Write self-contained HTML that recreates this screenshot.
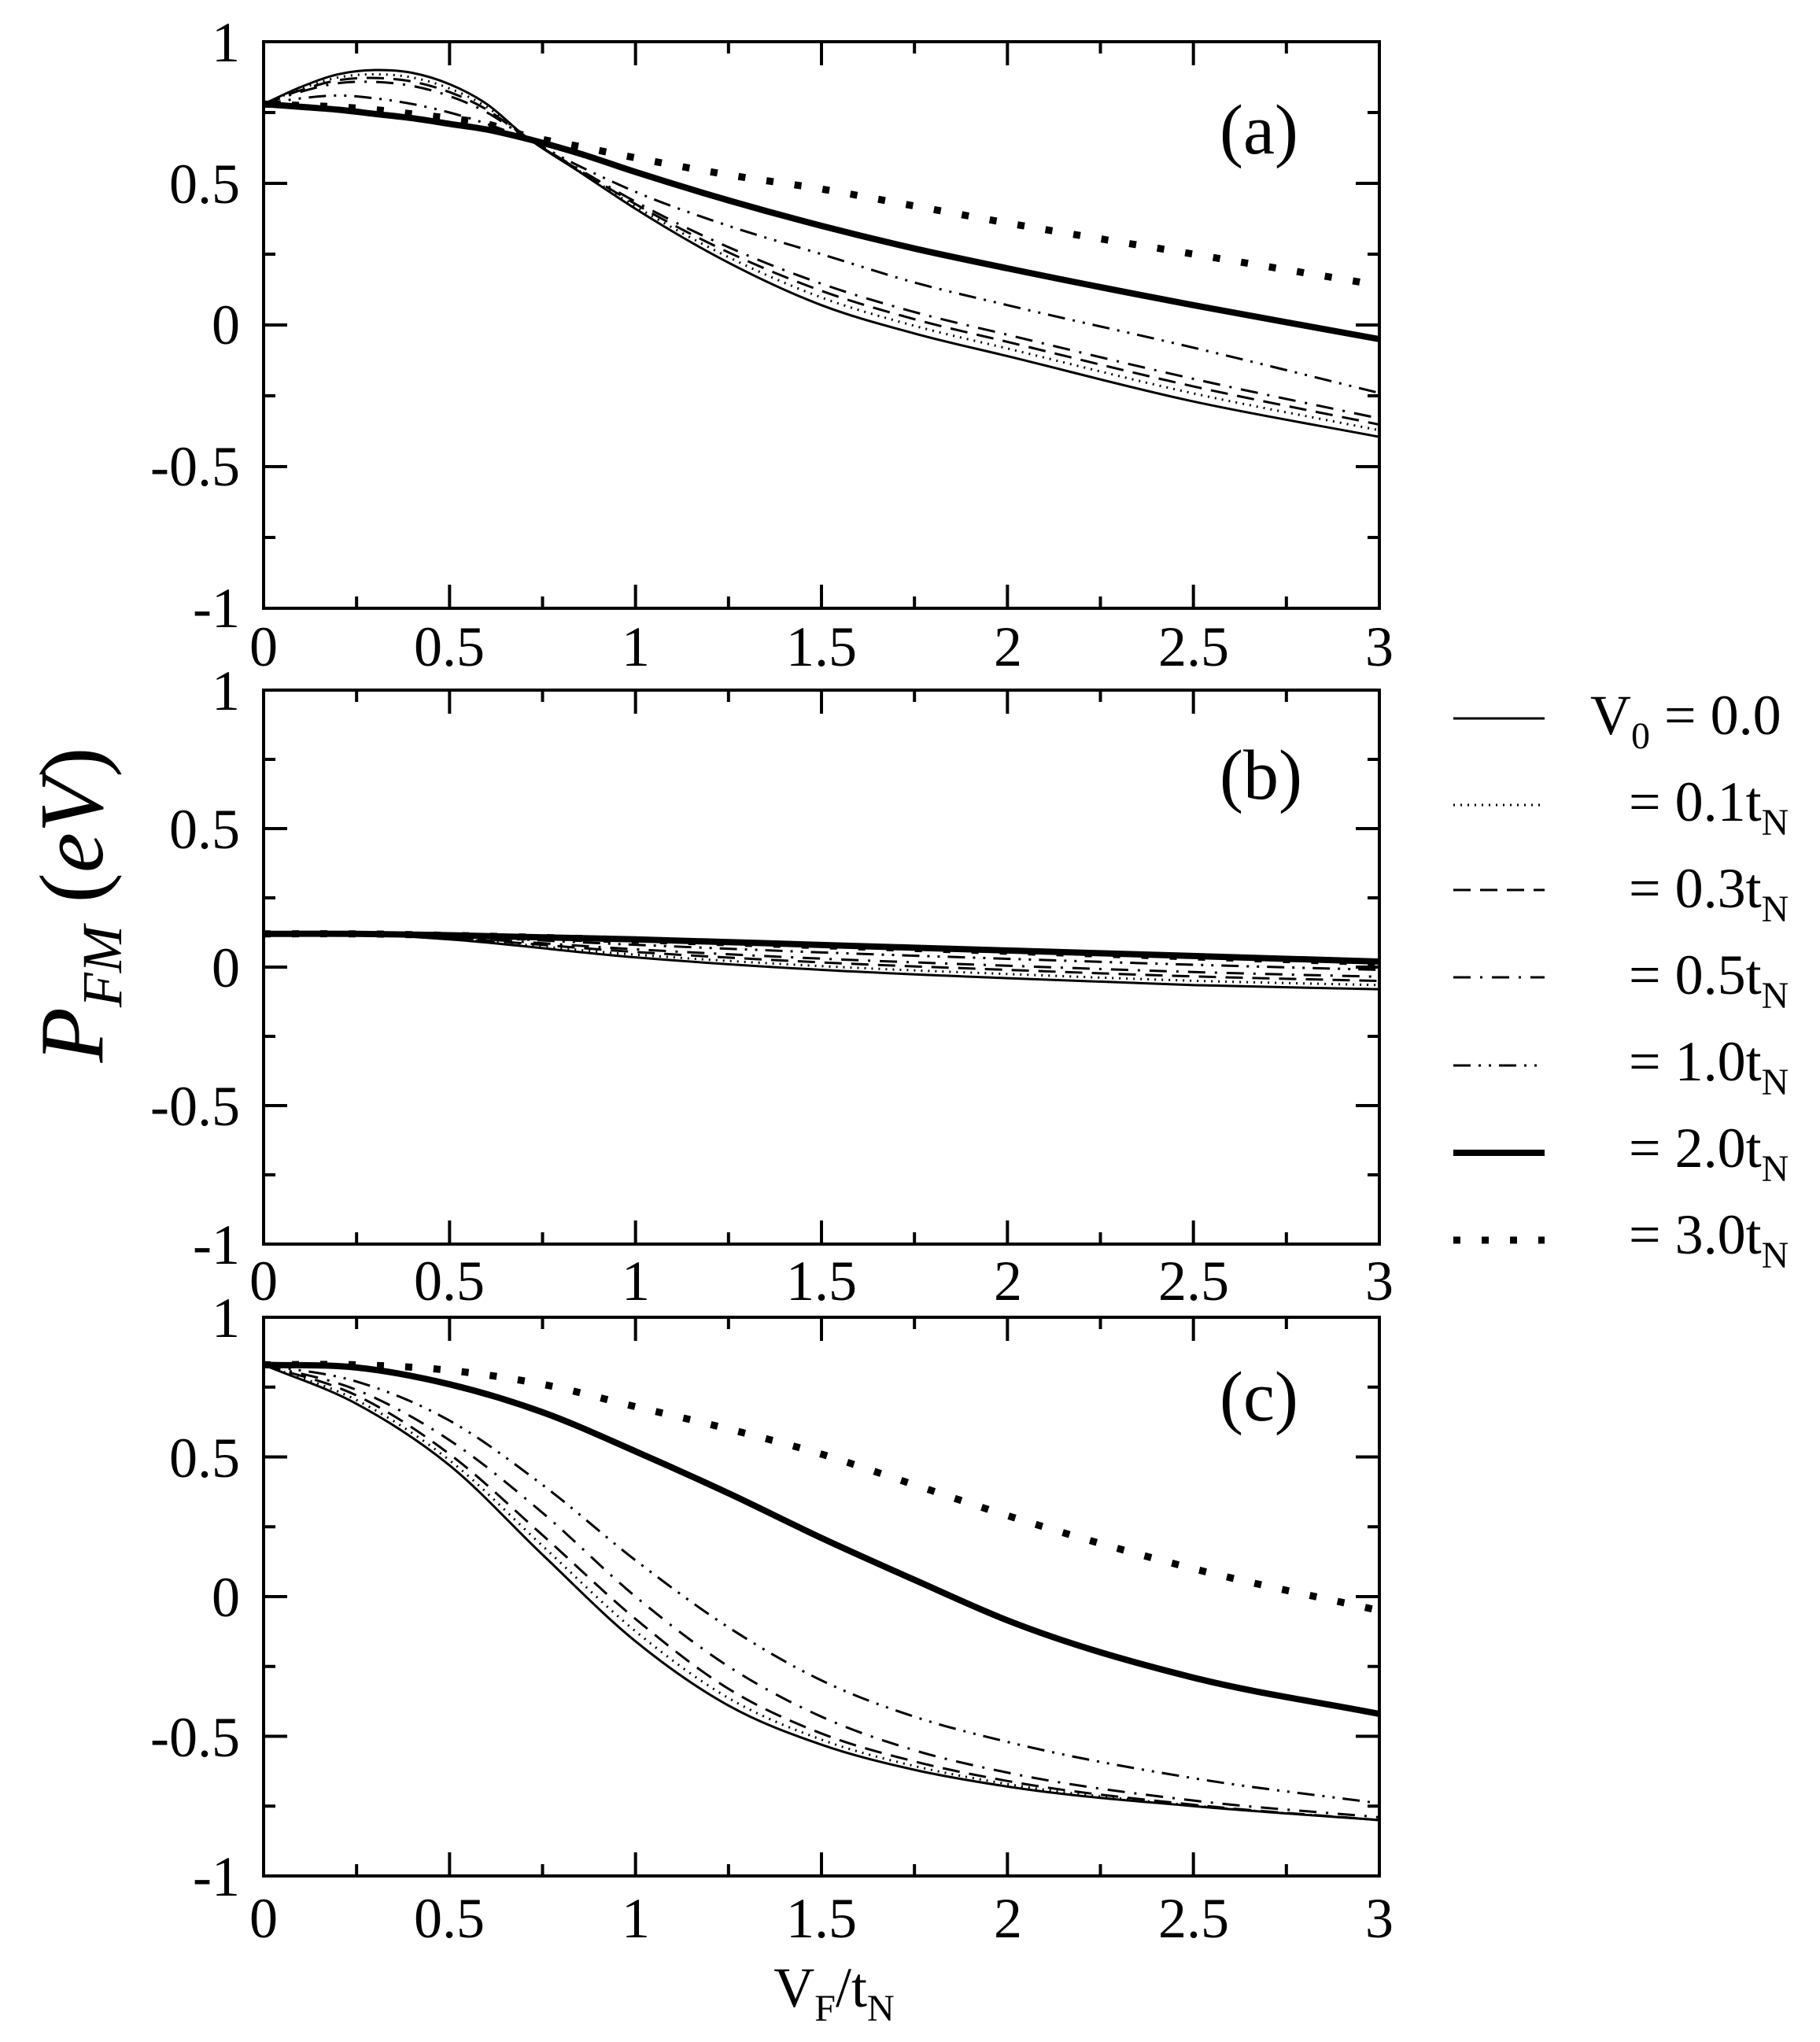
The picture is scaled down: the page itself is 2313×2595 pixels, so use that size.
<!DOCTYPE html>
<html><head><meta charset="utf-8"><style>
html,body{margin:0;padding:0;background:#fff;}
svg{display:block;}
text{font-family:"Liberation Serif",serif;fill:#000;}
</style></head><body>
<svg id="s" width="2313" height="2595" viewBox="0 0 2313 2595" xmlns="http://www.w3.org/2000/svg">
<rect width="2313" height="2595" fill="#fff"/>
<g id="ticks" stroke="#000" stroke-width="3" fill="none"></g>
<g id="curves" fill="none" stroke="#000"></g>
<g font-size="72" text-anchor="end">
<text x="305" y="78">1</text><text x="305" y="258">0.5</text><text x="305" y="437">0</text><text x="305" y="617">-0.5</text><text x="305" y="797">-1</text>
<text x="305" y="902">1</text><text x="305" y="1078">0.5</text><text x="305" y="1254">0</text><text x="305" y="1430">-0.5</text><text x="305" y="1606">-1</text>
<text x="305" y="1699">1</text><text x="305" y="1877">0.5</text><text x="305" y="2054">0</text><text x="305" y="2232">-0.5</text><text x="305" y="2409">-1</text>
</g>
<g font-size="72" text-anchor="middle">
<text x="335" y="846">0</text><text x="571" y="846">0.5</text><text x="808" y="846">1</text><text x="1044" y="846">1.5</text><text x="1281" y="846">2</text><text x="1517" y="846">2.5</text><text x="1753" y="846">3</text>
<text x="335" y="1652">0</text><text x="571" y="1652">0.5</text><text x="808" y="1652">1</text><text x="1044" y="1652">1.5</text><text x="1281" y="1652">2</text><text x="1517" y="1652">2.5</text><text x="1753" y="1652">3</text>
<text x="335" y="2462">0</text><text x="571" y="2462">0.5</text><text x="808" y="2462">1</text><text x="1044" y="2462">1.5</text><text x="1281" y="2462">2</text><text x="1517" y="2462">2.5</text><text x="1753" y="2462">3</text>
</g>
<g font-size="90">
<text x="1550" y="195">(a)</text>
<text x="1550" y="1015">(b)</text>
<text x="1550" y="1805">(c)</text>
</g>
<text x="1060" y="2550" font-size="72" text-anchor="middle">V<tspan font-size="48" dy="18">F</tspan><tspan dy="-18">/t</tspan><tspan font-size="48" dy="18">N</tspan></text>
<text transform="translate(130,1150) rotate(-90)" font-size="115" text-anchor="middle"><tspan font-style="italic">P</tspan><tspan font-style="italic" font-size="72" dy="24">FM</tspan><tspan dy="-24"> (</tspan><tspan font-style="italic">eV</tspan>)</text>
<g font-size="72">
<text x="2021" y="933">V<tspan font-size="48" dy="18">0</tspan><tspan dy="-18"> = 0.0</tspan></text>
<text x="2070" y="1043">= 0.1t<tspan font-size="48" dy="18">N</tspan></text>
<text x="2070" y="1153">= 0.3t<tspan font-size="48" dy="18">N</tspan></text>
<text x="2070" y="1263">= 0.5t<tspan font-size="48" dy="18">N</tspan></text>
<text x="2070" y="1373">= 1.0t<tspan font-size="48" dy="18">N</tspan></text>
<text x="2070" y="1483">= 2.0t<tspan font-size="48" dy="18">N</tspan></text>
<text x="2070" y="1593">= 3.0t<tspan font-size="48" dy="18">N</tspan></text>
</g>
<g id="leg" fill="none" stroke="#000"></g>
</svg>
<script>
var NS="http://www.w3.org/2000/svg";
function el(p,t,a){var e=document.createElementNS(NS,t);for(var k in a)e.setAttribute(k,a[k]);p.appendChild(e);return e;}
var X0=335,X1=1753;
var panels=[{t:53,b:773},{t:877,b:1581},{t:1674,b:2384}];
var tk=document.getElementById('ticks');
var d="";
panels.forEach(function(p){
  d+="M"+X0+","+p.t+"H"+X1+"V"+p.b+"H"+X0+"Z";
  for(var i=1;i<12;i++){var x=X0+(X1-X0)*i/12;var L=(i%2==0)?30:15;
    d+="M"+x+","+p.b+"v"+(-L)+"M"+x+","+p.t+"v"+L;}
  for(var j=1;j<8;j++){var y=p.t+(p.b-p.t)*j/8;var L=(j%2==0)?30:15;
    d+="M"+X0+","+y+"h"+L+"M"+X1+","+y+"h"+(-L);}
});
el(tk,'path',{d:d,'stroke-width':4});
var styles=[
 {w:3,da:""},{w:3,da:"2,7"},{w:3,da:"22,12"},{w:3,da:"22,12,3,12"},{w:3,da:"22,10,3,10,3,10"},{w:8,da:""},{w:9,da:"9,27"}];
function path(p,pts){
  var n=pts.length,m=[];
  for(var i=0;i<n;i++){
    if(i==0)m.push((pts[1][1]-pts[0][1])/(pts[1][0]-pts[0][0]));
    else if(i==n-1)m.push((pts[n-1][1]-pts[n-2][1])/(pts[n-1][0]-pts[n-2][0]));
    else{var h0=pts[i][0]-pts[i-1][0],h1=pts[i+1][0]-pts[i][0];
      var s0=(pts[i][1]-pts[i-1][1])/h0,s1=(pts[i+1][1]-pts[i][1])/h1;
      m.push((s0*h1+s1*h0)/(h0+h1));}
  }
  function X(x){return X0+x*(X1-X0)/3;}
  function Y(v){return p.t+(1-v)*(p.b-p.t)/2;}
  var s="M"+X(pts[0][0])+","+Y(pts[0][1]);
  for(var i=0;i<n-1;i++){
    var h=pts[i+1][0]-pts[i][0];
    s+="C"+X(pts[i][0]+h/3)+","+Y(pts[i][1]+m[i]*h/3)+" "+X(pts[i+1][0]-h/3)+","+Y(pts[i+1][1]-m[i+1]*h/3)+" "+X(pts[i+1][0])+","+Y(pts[i+1][1]);
  }
  return s;
}
function mix(a,b,f){return a.map(function(q,i){return [q[0],q[1]*(1-f)+b[i][1]*f];});}
var xs=[0,0.1,0.2,0.3,0.4,0.5,0.6,0.7,0.85,1,1.25,1.5,1.75,2,2.5,3];
var a0=[0.78,0.84,0.885,0.9,0.89,0.85,0.78,0.67,0.54,0.41,0.22,0.07,-0.03,-0.11,-0.27,-0.395];
var a2=[0.78,0.77,0.76,0.745,0.73,0.71,0.69,0.66,0.605,0.54,0.44,0.35,0.27,0.2,0.07,-0.05];
var a3=[0.78,0.775,0.77,0.76,0.745,0.73,0.71,0.67,0.63,0.59,0.53,0.48,0.42,0.36,0.25,0.14];
var a1=[0.78,0.8,0.81,0.8,0.78,0.75,0.71,0.66,0.56,0.47,0.35,0.25,0.15,0.07,-0.08,-0.24];
function Z(v){return xs.map(function(x,i){return [x,v[i]];});}
var A0=Z(a0),A1=Z(a1),A2=Z(a2),A3=Z(a3);
var A=[A0,mix(A0,A1,0.15),mix(A0,A1,0.28),mix(A0,A1,0.42),A1,A2,A3];
var bx=[0,0.25,0.5,1,1.5,2,2.5,3];
function B(v){return bx.map(function(x,i){return [x,v[i]];});}
var B0=B([0.12,0.12,0.1,0.035,-0.01,-0.04,-0.065,-0.08]);
var B2=B([0.12,0.12,0.115,0.1,0.08,0.06,0.04,0.02]);
var Bs=[B0,mix(B0,B2,0.15),mix(B0,B2,0.3),mix(B0,B2,0.45),mix(B0,B2,0.7),B2,mix(B0,B2,0.97)];
var cx=[0,0.25,0.5,0.75,1,1.25,1.5,1.75,2,2.5,3];
function C(v){return cx.map(function(x,i){return [x,v[i]];});}
var C0=C([0.83,0.69,0.47,0.15,-0.16,-0.39,-0.53,-0.62,-0.68,-0.75,-0.8]);
var C3=C([0.83,0.72,0.51,0.22,-0.08,-0.33,-0.49,-0.59,-0.66,-0.745,-0.8]);
var C5=C([0.83,0.74,0.56,0.3,0.0,-0.25,-0.43,-0.55,-0.63,-0.73,-0.79]);
var C1=C([0.83,0.77,0.63,0.4,0.13,-0.11,-0.3,-0.43,-0.52,-0.65,-0.74]);
var C2=C([0.83,0.82,0.76,0.66,0.52,0.37,0.21,0.06,-0.085,-0.29,-0.42]);
var C33=C([0.83,0.83,0.81,0.76,0.68,0.6,0.51,0.4,0.29,0.1,-0.05]);
var Cs=[C0,mix(C0,C3,0.45),C3,C5,C1,C2,C33];
var cg=document.getElementById('curves');
[[panels[0],A],[panels[1],Bs],[panels[2],Cs]].forEach(function(pr){
  pr[1].forEach(function(pts,i){
    var st=styles[i];var a={d:path(pr[0],pts),'stroke-width':st.w};
    if(st.da)a['stroke-dasharray']=st.da;
    el(cg,'path',a);
  });
});
var lg=document.getElementById('leg');
var ly=[913,1023,1131,1242,1354,1465,1576];
styles.forEach(function(st,i){
  var a={d:"M1847,"+ly[i]+"H1963",'stroke-width':st.w};
  if(st.da)a['stroke-dasharray']=st.da;
  el(lg,'path',a);
});
</script>
</body></html>
